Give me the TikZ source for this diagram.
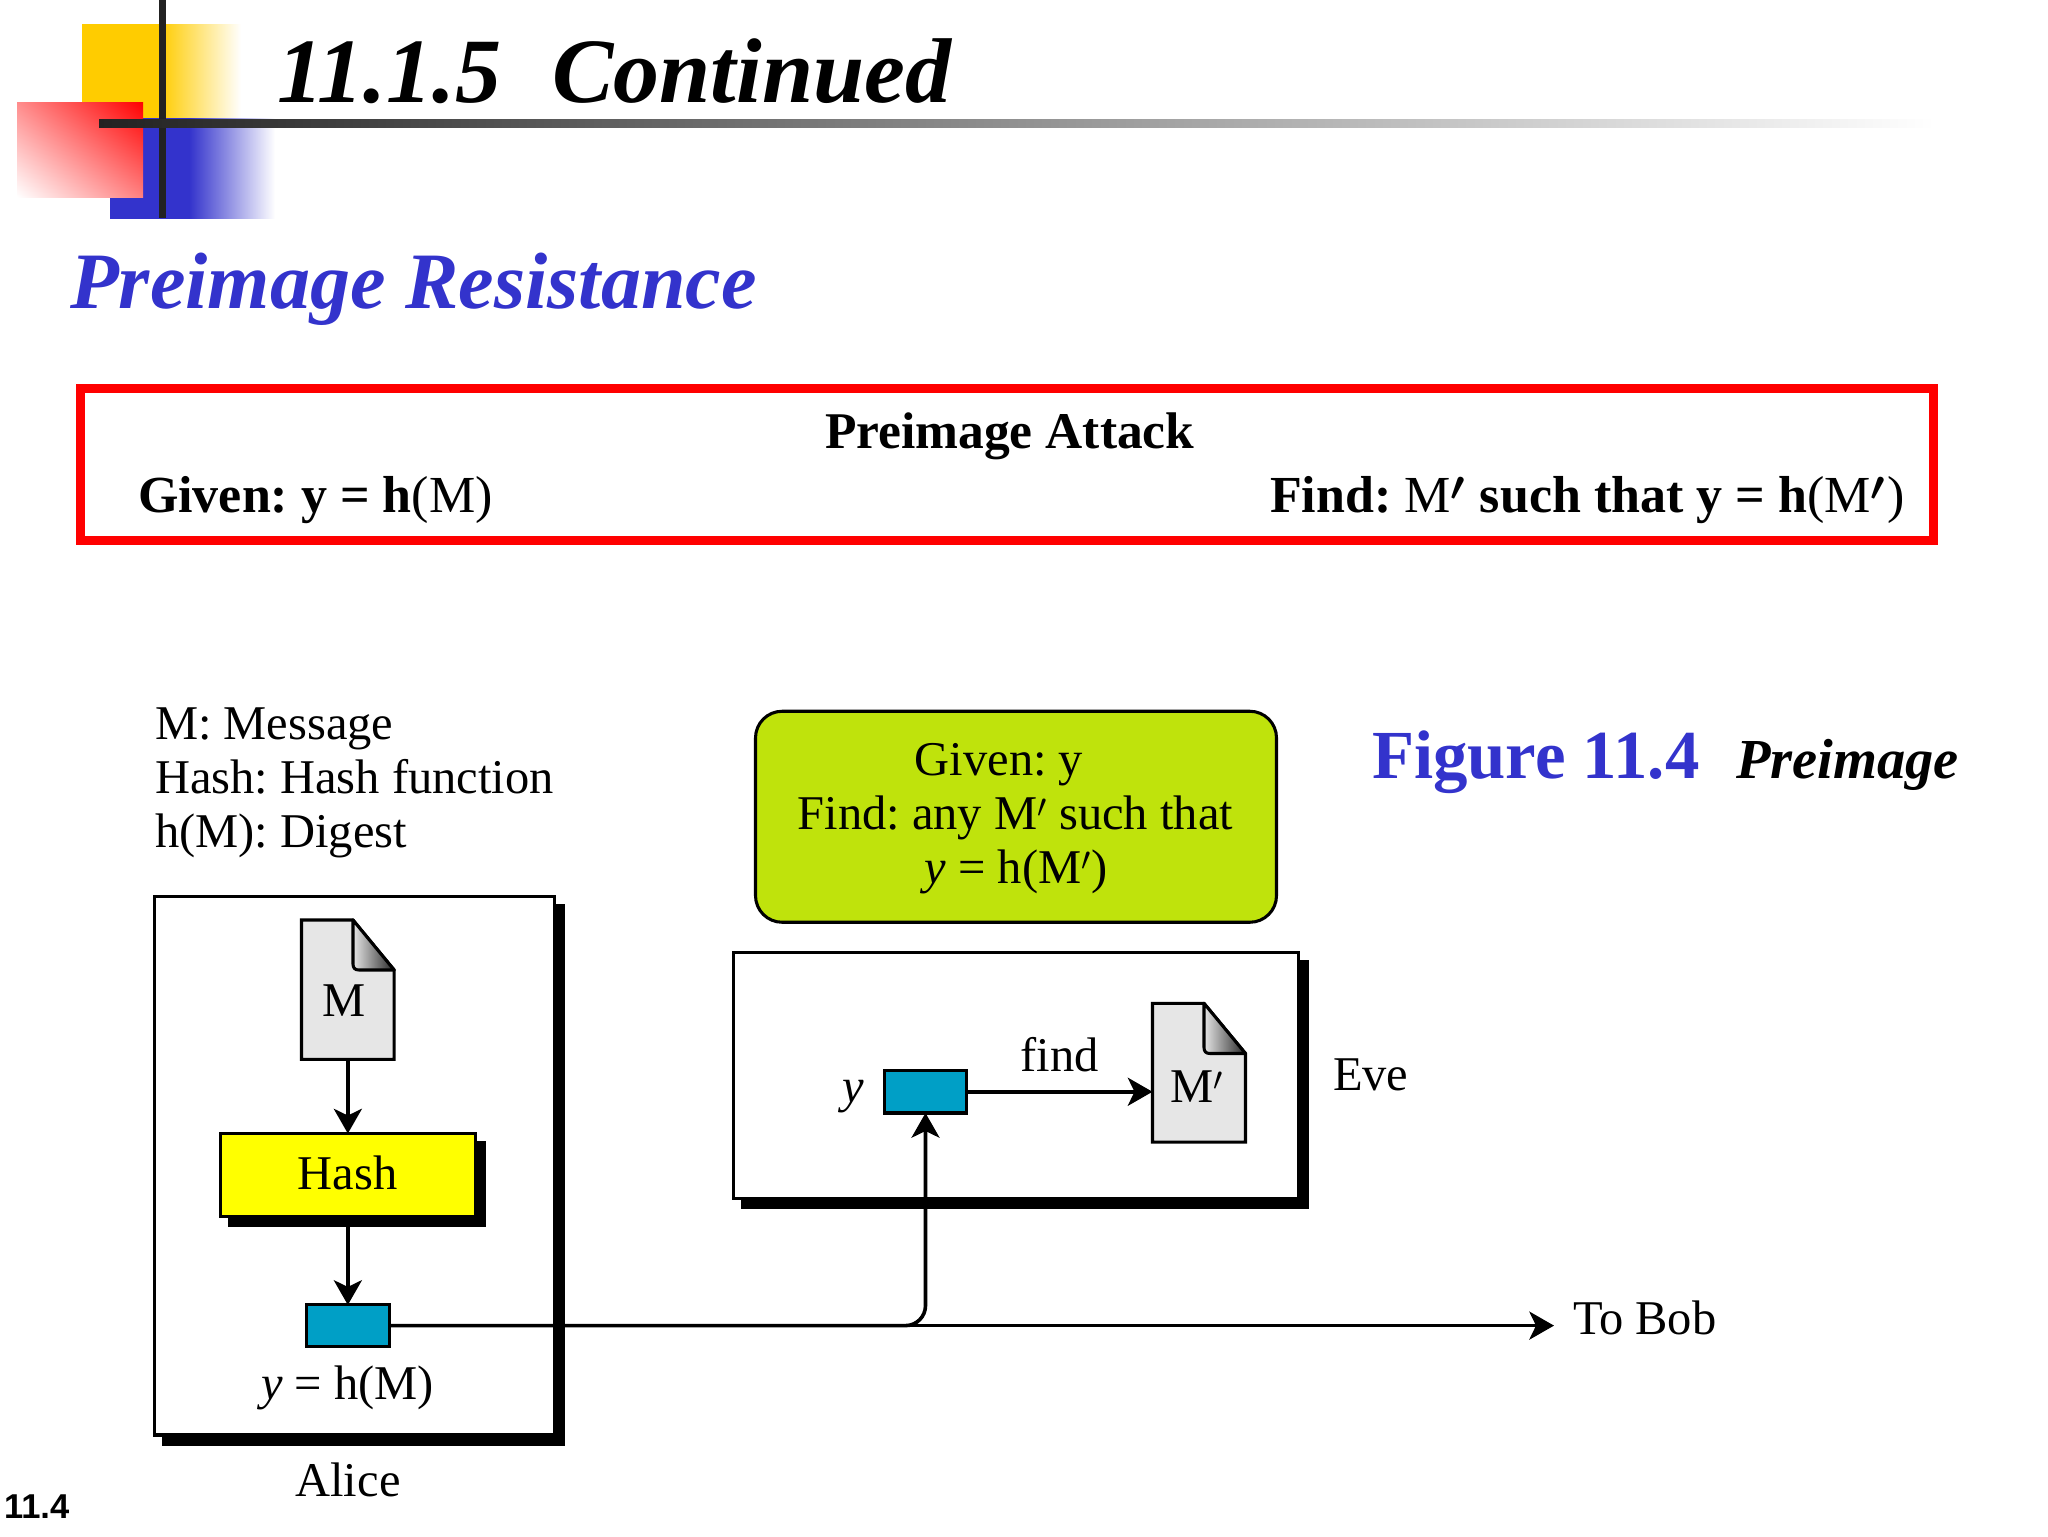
\documentclass[tikz,border=0pt]{standalone}
\usepackage{fontspec}
\usepackage{graphicx}
\setmainfont{Liberation Serif}
\newfontfamily\sansbold{Liberation Sans}
\usetikzlibrary{arrows.meta,shadows,shadings}
\definecolor{slideblue}{HTML}{3333CC}
\definecolor{slidered}{HTML}{FF0000}
\definecolor{slideyellow}{HTML}{FFCC00}
\definecolor{bargray}{HTML}{222222}
\definecolor{digestblue}{HTML}{009FC6}
\definecolor{limegreen}{HTML}{BFE30C}
\definecolor{docgray}{HTML}{E6E6E6}
\definecolor{hashyellow}{HTML}{FFFF00}
\pgfdeclarehorizontalshading{yellowfade}{100bp}{color(0bp)=(slideyellow); color(49.5bp)=(slideyellow); color(75bp)=(white); color(100bp)=(white)}
\pgfdeclarehorizontalshading{bluefade}{100bp}{color(0bp)=(slideblue); color(49bp)=(slideblue); color(75bp)=(white); color(100bp)=(white)}
\newcommand{\pxfont}[1]{\pgfmathsetmacro{\fszv}{#1*0.75}\fontsize{\fszv pt}{\fszv pt}\selectfont\frenchspacing}
\newcommand{\bigprime}{\raisebox{0.22em}{\scalebox{1.25}{\boldmath$\prime$}}\hspace{0.04em}}
\tikzset{
  x=0.75pt,y=-0.75pt,
  txt/.style={inner sep=0pt,outer sep=0pt,anchor=base west},
  ctxt/.style={inner sep=0pt,outer sep=0pt,anchor=base},
  panel/.style={draw=black,fill=white,line width=2.3pt,inner sep=0pt,outer sep=0pt,
    general shadow={fill=black,draw=black,shadow xshift=6.75pt,shadow yshift=-6.75pt}},
  flow/.style={draw=black,line width=2.9pt,-{Stealth[length=18.5pt,width=21pt,inset=5pt]}},
  wire/.style={draw=black,line width=2.7pt},
  digestbox/.style={draw=black,fill=digestblue,line width=2.3pt,inner sep=0pt,outer sep=0pt},
  docframe/.style={inner sep=0pt,outer sep=0pt},
  docbody/.style={draw=black,fill=docgray,line width=2.3pt,line join=miter},
  docfold/.style={left color=white!90!black,right color=black!85,draw=none},
}
\begin{document}
\begin{tikzpicture}
\useasboundingbox (0,0) rectangle (2048,1536);
% logo
\shade[shading=yellowfade] (82,24) rectangle (241,118);
\shade[shading=bluefade] (110,118) rectangle (275,218);
\shade[upper right=slidered,upper left=slidered!45!white,lower right=slidered!50!white,lower left=white] (17,102) rectangle (143,197);
\fill[bargray] (159,0) rectangle (166,218);
\shade[left color=bargray,right color=white] (99,119) rectangle (1935,127);
% titles
\node[txt] (title) at (277,102) {\pxfont{92}\bfseries\itshape 11.1.5\hspace{0.55em}Continued};
\node[txt,text=slideblue] (subtitle) at (70,308) {\pxfont{80}\bfseries\itshape Preimage Resistance};
% red box
\node[draw=slidered,line width=6.75pt,minimum width=1853*0.75pt,minimum height=152.5*0.75pt,inner sep=0pt,outer sep=0pt] (defbox) at (1006.5,464.25) {};
\node[txt] (attack) at (825,448) {\pxfont{51.5}\bfseries Preimage Attack};
\node[txt] (given) at (138,512) {\pxfont{52}\textbf{Given: y = h}(M)};
\node[txt] (find) at (1270,512) {\pxfont{52}\textbf{Find: }M\bigprime\textbf{ such that y = h}(M\bigprime)};
% legend
\node[txt] (leg1) at (155,739) {\pxfont{48.5}M: Message};
\node[txt] (leg2) at (155,793) {\pxfont{48.5}Hash: Hash function};
\node[txt] (leg3) at (155,847) {\pxfont{48.5}h(M): Digest};
% figure caption
\node[txt,text=slideblue] (figlabel) at (1372,778) {\pxfont{68.8}\bfseries Figure 11.4};
\node[txt] (figname) at (1736,778) {\pxfont{56.5}\bfseries\itshape Preimage};
% page number
\node[txt] (pageno) at (4,1518) {\pxfont{34.5}\sansbold\bfseries 11.4};
% Alice
\node[panel,minimum width=399.7*0.75pt,minimum height=538.5*0.75pt] (alice) at (354.65,1165.75) {};
\node[docframe,minimum width=92.7*0.75pt,minimum height=139.3*0.75pt] (docM) at (347.85,989.65) {};
\path[docbody] (docM.north west) -- (353,920) -- (394.2,970) -- (docM.south east) -- (docM.south west) -- cycle;
\shade[docfold] (353,920) -- (394.2,970) -- (359,970) .. controls (355,970) and (353,968) .. (353,964) -- cycle;
\draw[black,line width=2.3pt,line join=round] (353,920) -- (353,964) .. controls (353,968) and (355,970) .. (359,970) -- (394.2,970) -- cycle;
\node[ctxt] (labM) at (344,1016) {\pxfont{48.5}M};
\node[panel,fill=hashyellow,minimum width=254.7*0.75pt,minimum height=82.7*0.75pt] (hash) at (347.85,1174.85) {};
\node[ctxt] (labHash) at (347.5,1189.6) {\pxfont{48.5}Hash};
\node[digestbox,minimum width=82.7*0.75pt,minimum height=41.4*0.75pt] (digest) at (347.85,1325.6) {};
\node[ctxt] (labDigest) at (347.5,1399) {\pxfont{48.5}\textit{y} = h(M)};
\node[ctxt] (labAlice) at (348,1496) {\pxfont{48.5}Alice};
% green
\node[draw=black,fill=limegreen,rounded corners=20pt,line width=2.3pt,minimum width=521*0.75pt,minimum height=211*0.75pt,inner sep=0pt,outer sep=0pt] (task) at (1016,816.75) {};
\node[ctxt] (task1) at (999,775.8) {\pxfont{48.5}Given: y};
\node[ctxt] (task2) at (1015.3,829.6) {\pxfont{48.5}Find: any M$'$ such that};
\node[ctxt] (task3) at (1016,883) {\pxfont{48.5}\textit{y} = h(M$'$)};
% Eve
\node[panel,minimum width=565*0.75pt,minimum height=245.6*0.75pt] (eve) at (1016,1075.3) {};
\node[digestbox,minimum width=82*0.75pt,minimum height=42.5*0.75pt] (eveY) at (925.5,1091.75) {};
\node[txt] (labY) at (842.5,1102) {\pxfont{48.5}\textit{y}};
\node[docframe,minimum width=93*0.75pt,minimum height=138.8*0.75pt] (docP) at (1199,1072.7) {};
\path[docbody] (docP.north west) -- (1204,1003.3) -- (1245.5,1053.5) -- (docP.south east) -- (docP.south west) -- cycle;
\shade[docfold] (1204,1003.3) -- (1245.5,1053.5) -- (1210,1053.5) .. controls (1206,1053.5) and (1204,1051.5) .. (1204,1047.5) -- cycle;
\draw[black,line width=2.3pt,line join=round] (1204,1003.3) -- (1204,1047.5) .. controls (1204,1051.5) and (1206,1053.5) .. (1210,1053.5) -- (1245.5,1053.5) -- cycle;
\node[txt] (labMp) at (1170,1102.8) {\pxfont{48.5}M$'$};
\node[txt] (labFind) at (1020.5,1071) {\pxfont{48.5}find};
\node[txt] (labEve) at (1333,1090.6) {\pxfont{48.5}Eve};
% To Bob
\coordinate (bobEnd) at (1554,1325.6);
\node[txt] (labBob) at (1573,1334) {\pxfont{48.5}To Bob};
% connectors
\draw[flow] (docM.south) -- (hash.north);
\draw[flow] (hash.south) -- (digest.north);
\draw[wire,-{Stealth[length=18.5pt,width=21pt,inset=5pt]}] (digest.east) -- (bobEnd);
\draw[wire,rounded corners=15pt,-{Stealth[length=18.5pt,width=21pt,inset=5pt]}] (digest.east) -| (eveY.south);
\draw[flow] (eveY.east) -- (eveY.east -| docP.west);
\end{tikzpicture}
\end{document}
